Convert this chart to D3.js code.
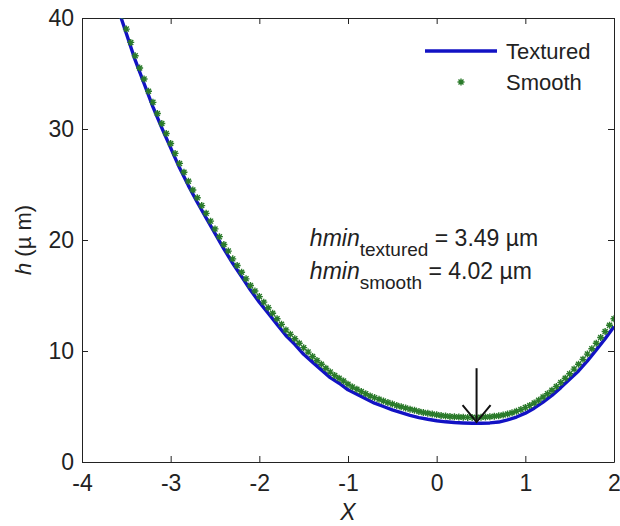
<!DOCTYPE html>
<html>
<head>
<meta charset="utf-8">
<script src="https://cdn.jsdelivr.net/npm/d3@7/dist/d3.min.js"></script>
<style>
body{margin:0;background:#fff;}
text{font-family:"Liberation Sans",Arial,sans-serif;fill:#222;}
</style>
</head>
<body>
<div id="plot" style="width:620px;height:526px"></div>
<script>
var w = 620,
    h = 526;

// axis ticks
var xTicks = [-4, -3, -2, -1, 0, 1, 2];
var yTicks = [0, 10, 20, 30, 40];

// textured film thickness (um), sampled every 0.1 in X from -3.6
var texturedX = d3.range(-3.6, 2.0001, 0.1).map(function(d){ return Math.round(d*100)/100; });
var texturedH = [41.0, 38.6, 36.2, 34.1, 32.0, 30.1, 28.3, 26.5, 24.9, 23.4,
                 22.0, 20.6, 19.2, 17.9, 16.7, 15.5, 14.4, 13.4, 12.4, 11.4,
                 10.6, 9.7, 9.0, 8.3, 7.6, 7.1, 6.5, 6.1, 5.7, 5.3,
                 5.0, 4.7, 4.45, 4.2, 4.0, 3.85, 3.72, 3.62, 3.56, 3.52,
                 3.49, 3.49, 3.52, 3.6, 3.8, 4.05, 4.4, 4.85, 5.4, 6.0,
                 6.7, 7.45, 8.2, 9.1, 10.1, 11.1, 12.2];

// smooth film thickness (um), sampled every 0.05 in X from -3.6
var smoothX = d3.range(-3.6, 2.0001, 0.05).map(function(d){ return Math.round(d*100)/100; });
var smoothH = [41.4, 40.2, 39.0, 37.8, 36.6, 35.5, 34.5, 33.4, 32.4, 31.4,
               30.5, 29.6, 28.7, 27.8, 26.9, 26.1, 25.3, 24.5, 23.8, 23.1,
               22.4, 21.7, 21.0, 20.3, 19.6, 19.0, 18.3, 17.7, 17.1, 16.5,
               15.9, 15.4, 14.9, 14.4, 13.9, 13.4, 12.9, 12.4, 11.9, 11.5,
               11.1, 10.7, 10.3, 9.9, 9.5, 9.15, 8.8, 8.45, 8.1, 7.8,
               7.55, 7.3, 7.0, 6.75, 6.55, 6.35, 6.15, 5.95, 5.8, 5.65,
               5.5, 5.35, 5.22, 5.1, 4.98, 4.87, 4.76, 4.66, 4.56, 4.47,
               4.39, 4.32, 4.25, 4.19, 4.14, 4.10, 4.07, 4.05, 4.03, 4.02,
               4.02, 4.02, 4.03, 4.05, 4.08, 4.12, 4.17, 4.24, 4.33, 4.44,
               4.57, 4.72, 4.90, 5.10, 5.32, 5.57, 5.85, 6.15, 6.47, 6.81,
               7.17, 7.55, 7.95, 8.37, 8.80, 9.25, 9.72, 10.20, 10.70, 11.22,
               11.76, 12.32, 12.90];

var seriesNames = ['Textured', 'Smooth'];
var hminTextured = 3.49, hminSmooth = 4.02;
var arrowX = 0.45;

var textured = texturedX.map(function(x, i){ return {x: x, h: texturedH[i]}; });
var smooth = smoothX.map(function(x, i){ return {x: x, h: smoothH[i]}; });

var svg = d3.select('#plot').append('svg')
    .attr('width', w)
    .attr('height', h);

svg.append('rect').attr('width', w).attr('height', h).attr('fill', '#fff');

var mLeft = 82, mRight = 614, mTop = 18, mBottom = 462;

var x = d3.scaleLinear().domain([-4, 2]).range([mLeft, mRight]);
var y = d3.scaleLinear().domain([0, 40]).range([mBottom, mTop]);

svg.append('clipPath').attr('id', 'clip')
    .append('rect')
    .attr('x', mLeft).attr('y', mTop)
    .attr('width', mRight - mLeft).attr('height', mBottom - mTop);

// axes, MATLAB style box with inward ticks
function styleAxis(g){
    g.select('.domain').attr('stroke', '#222');
    g.selectAll('.tick line').attr('stroke', '#222');
    g.selectAll('.tick text').style('font-size', '23px').attr('fill', '#222');
}
var fmt = function(d){ return String(d); };

svg.append('g')
    .attr('transform', 'translate(0,' + mBottom + ')')
    .call(d3.axisBottom(x).tickValues(xTicks).tickFormat(fmt).tickSizeInner(-6).tickSizeOuter(0).tickPadding(13))
    .call(styleAxis);
svg.append('g')
    .attr('transform', 'translate(0,' + mTop + ')')
    .call(d3.axisTop(x).tickValues(xTicks).tickSizeInner(-6).tickSizeOuter(0).tickFormat(''))
    .call(styleAxis);
svg.append('g')
    .attr('transform', 'translate(' + mLeft + ',0)')
    .call(d3.axisLeft(y).tickValues(yTicks).tickFormat(fmt).tickSizeInner(-6).tickSizeOuter(0).tickPadding(8))
    .call(styleAxis);
svg.append('g')
    .attr('transform', 'translate(' + mRight + ',0)')
    .call(d3.axisRight(y).tickValues(yTicks).tickSizeInner(-6).tickSizeOuter(0).tickFormat(''))
    .call(styleAxis);

var plotArea = svg.append('g').attr('clip-path', 'url(#clip)');

var line = d3.line()
    .x(function(d){ return x(d.x); })
    .y(function(d){ return y(d.h); });

plotArea.append('path')
    .datum(textured)
    .attr('d', line)
    .attr('fill', 'none')
    .attr('stroke', '#1212c4')
    .attr('stroke-width', 3.4)
    .attr('stroke-linejoin', 'round');

// asterisk marker
var star = 'M-3.5,0L3.5,0M0,-3.5L0,3.5M-2.5,-2.5L2.5,2.5M-2.5,2.5L2.5,-2.5';

plotArea.selectAll('.smooth')
    .data(smooth)
    .enter()
    .append('path')
    .attr('class', 'smooth')
    .attr('transform', function(d){ return 'translate(' + x(d.x) + ',' + y(d.h) + ')'; })
    .attr('d', star)
    .attr('stroke', '#2a7a2a')
    .attr('stroke-width', 1.4)
    .attr('fill', 'none');

// arrow pointing at hmin
var ax = x(arrowX);
svg.append('line')
    .attr('x1', ax).attr('x2', ax)
    .attr('y1', y(8.45)).attr('y2', y(3.6))
    .attr('stroke', '#111').attr('stroke-width', 2);
svg.append('path')
    .attr('d', 'M' + (ax - 14) + ',' + (y(3.6) - 17) + 'L' + ax + ',' + y(3.6) + 'L' + (ax + 14) + ',' + (y(3.6) - 17))
    .attr('fill', 'none').attr('stroke', '#111').attr('stroke-width', 2);

// annotation
function hminLabel(yy, sub, val){
    var t = svg.append('text')
        .attr('x', x(-1.43)).attr('y', yy)
        .style('font-size', '23px');
    t.append('tspan').style('font-style', 'italic').text('hmin');
    t.append('tspan').attr('dy', 10).style('font-size', '19px').text(sub);
    t.append('tspan').attr('dy', -10).text(' = ' + val.toFixed(2) + ' \u00b5m');
}
hminLabel(y(19.5), 'textured', hminTextured);
hminLabel(y(16.5), 'smooth', hminSmooth);

// legend
var leg = svg.append('g');
leg.append('line')
    .attr('x1', 425).attr('x2', 497)
    .attr('y1', 51).attr('y2', 51)
    .attr('stroke', '#1212c4').attr('stroke-width', 3.4);
leg.append('path')
    .attr('transform', 'translate(461,82)')
    .attr('d', star)
    .attr('stroke', '#2a7a2a').attr('stroke-width', 1.4);
leg.selectAll('.legText')
    .data(seriesNames)
    .enter()
    .append('text')
    .attr('x', 506)
    .attr('y', function(d, i){ return 51 + i * 31; })
    .attr('dy', '0.35em')
    .style('font-size', '22px')
    .text(function(d){ return d; });

// axis labels
svg.append('text')
    .attr('x', (mLeft + mRight) / 2).attr('y', 520)
    .attr('text-anchor', 'middle')
    .style('font-size', '23px').style('font-style', 'italic')
    .text('X');

var yl = svg.append('text')
    .attr('transform', 'translate(31,' + (mTop + mBottom) / 2 + ') rotate(-90)')
    .attr('text-anchor', 'middle')
    .style('font-size', '22px');
yl.append('tspan').style('font-style', 'italic').text('h');
yl.append('tspan').text(' (\u00b5 m)');
</script>
</body>
</html>
